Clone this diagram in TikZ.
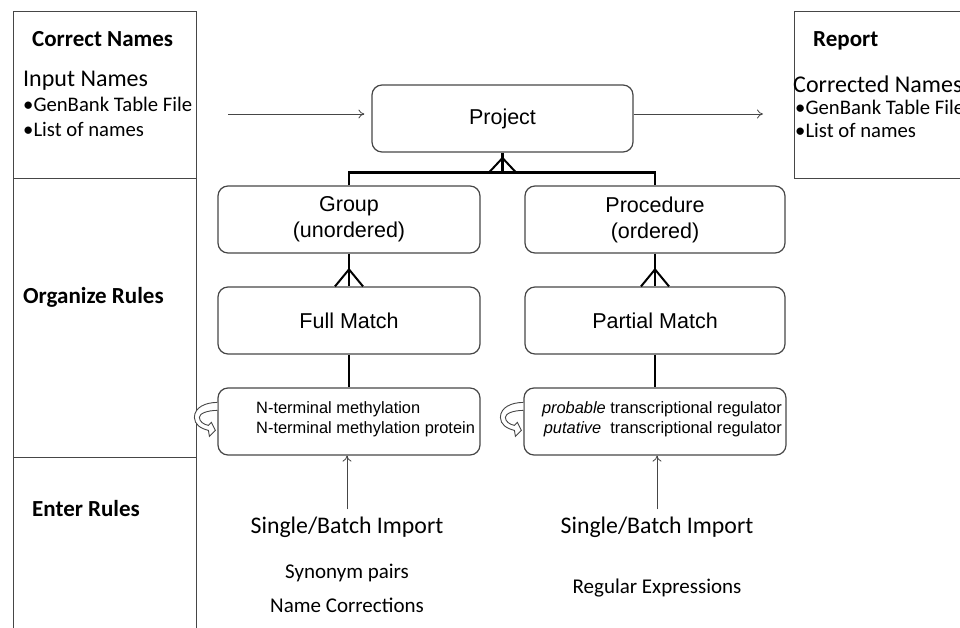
\documentclass[tikz,border=0pt]{standalone}
\usepackage{fontspec}
\setmainfont{Carlito}
\newfontfamily\arial{Liberation Sans}
\usetikzlibrary{arrows.meta}
\definecolor{edge}{RGB}{70,70,70}
\tikzset{
  rbox/.style={draw=edge, line width=1.2pt, rounded corners=10pt, minimum width=262pt, minimum height=67pt, inner sep=0pt, font=\arial\fontsize{21.5}{26}\selectfont, align=center},
  exbox/.style={rbox},
  conn/.style={line width=2.4pt, black},
  thin/.style={line width=0.8pt, edge, -{To[length=6pt,width=9pt]}},
  panel/.style={draw=edge, line width=1pt},
  lbl/.style={anchor=base west, inner sep=0pt},
  curvarr/.pic={
    \draw[edge, line width=0.9pt, fill=white]
      (0,15) .. controls (-12,15) and (-23,20) .. (-23,30)
      .. controls (-23,37) and (-17,41) .. (-9,43)
      -- (-8,49) -- (-2,43) -- (-6,35) -- (-9,38)
      .. controls (-14,37) and (-18,34) .. (-18,30)
      .. controls (-18,26) and (-10,23) .. (0,23);
  }
}
\begin{document}
\begin{tikzpicture}[x=1pt, y=-1pt]
\useasboundingbox (0,0) rectangle (960,628);
% left panel
\draw[panel] (13,640) -- (13,12) -- (196,12) -- (196,640);
\draw[panel] (13,179) -- (196,179);
\draw[panel] (13,457) -- (196,457);
\node[lbl, font=\bfseries\fontsize{23}{26}\selectfont] (cn) at (32,47) {Correct Names};
\node[lbl, font=\fontsize{24}{27}\selectfont] (in) at (23,87) {Input Names};
\node[lbl, font=\fontsize{20.7}{24}\selectfont] (in1) at (23,112) {•GenBank Table File};
\node[lbl, font=\fontsize{20.7}{24}\selectfont] (in2) at (23,137) {•List of names};
\node[anchor=west, inner sep=0pt, font=\bfseries\fontsize{23}{26}\selectfont] (org) at (23,297) {Organize Rules};
\node[anchor=west, inner sep=0pt, font=\bfseries\fontsize{23}{26}\selectfont] (ent) at (32,509) {Enter Rules};
% right panel
\draw[panel] (970,12) -- (794,12) -- (794,179) -- (970,179);
\node[lbl, font=\bfseries\fontsize{23}{26}\selectfont] (rep) at (813,47) {Report};
\node[lbl, font=\fontsize{24}{27}\selectfont] (out) at (793,93) {Corrected Names};
\node[lbl, font=\fontsize{20.7}{24}\selectfont] (out1) at (795,115) {•GenBank Table File};
\node[lbl, font=\fontsize{20.7}{24}\selectfont] (out2) at (795,138) {•List of names};
% main boxes
\node[rbox, minimum width=261pt] (proj) at (502.5,118.5) {Project};
\node[rbox] (grp) at (349,219.5) {Group\\(unordered)};
\node[rbox, minimum width=260pt] (proc) at (655,219.5) {Procedure\\(ordered)};
\node[rbox] (full) at (349,320.5) {Full Match};
\node[rbox, minimum width=260pt] (part) at (655,320.5) {Partial Match};
\node[exbox] (ex1) at (349,421.5) {};
\node[exbox, minimum width=262pt] (ex2) at (655,421.5) {};
\node[anchor=west, inner sep=0pt, align=left, font=\arial\fontsize{16.4}{20}\selectfont] (ex1t) at (256,419) {N-terminal methylation\\N-terminal methylation protein};
\node[anchor=east, inner sep=0pt, align=right, font=\arial\fontsize{16.4}{20}\selectfont] (ex2t) at (782,419) {\textit{probable} transcriptional regulator\\\textit{putative}\ \ transcriptional regulator};
% input / output arrows
\coordinate (inA) at (228,114);
\coordinate (outB) at (763,114);
\draw[thin] (inA) -- ([xshift=-7pt]proj.west |- inA);
\draw[thin] (proj.east |- outB) -- (outB);
% project to group/procedure
\draw[conn] (grp.north) -- ([yshift=13pt]grp.north) -- ([yshift=13pt]proc.north) -- (proc.north);
\coordinate (barP) at (proj.south |- 0,173);
\draw[conn] (proj.south) -- (barP);
\draw[conn, line width=2pt] ([xshift=-14pt]barP) -- ([yshift=15pt]barP) -- ([xshift=14pt]barP);
% group -> full, procedure -> partial
\draw[conn] (grp.south) -- (full.north);
\draw[conn, line width=2pt] ([xshift=-14pt]full.north) -- ([yshift=17pt]full.north) -- ([xshift=14pt]full.north);
\draw[conn] (proc.south) -- (part.north);
\draw[conn, line width=2pt] ([xshift=-14pt]part.north) -- ([yshift=17pt]part.north) -- ([xshift=14pt]part.north);
% full -> ex1, partial -> ex2
\draw[conn] (full.south) -- (ex1.north);
\draw[conn] (part.south) -- (ex2.north);
% curved arrows
\pic at (ex1.north west) {curvarr};
\pic at (ex2.north west) {curvarr};
% import texts
\node[font=\fontsize{23.8}{27}\selectfont, inner sep=0pt] (imp1) at (347,527) {Single/Batch Import};
\node[font=\fontsize{23.8}{27}\selectfont, inner sep=0pt] (imp2) at (657,527) {Single/Batch Import};
\draw[thin] ([yshift=7pt]imp1.north) -- (imp1.north |- ex1.south);
\draw[thin] ([yshift=7pt]imp2.north) -- (imp2.north |- ex2.south);
\node[font=\fontsize{21}{24}\selectfont, inner sep=0pt] (syn) at (347,573) {Synonym pairs};
\node[font=\fontsize{21}{24}\selectfont, inner sep=0pt] (nc) at (347,605) {Name Corrections};
\node[font=\fontsize{21}{24}\selectfont, inner sep=0pt] (rx) at (657,588) {Regular Expressions};
\end{tikzpicture}
\end{document}
